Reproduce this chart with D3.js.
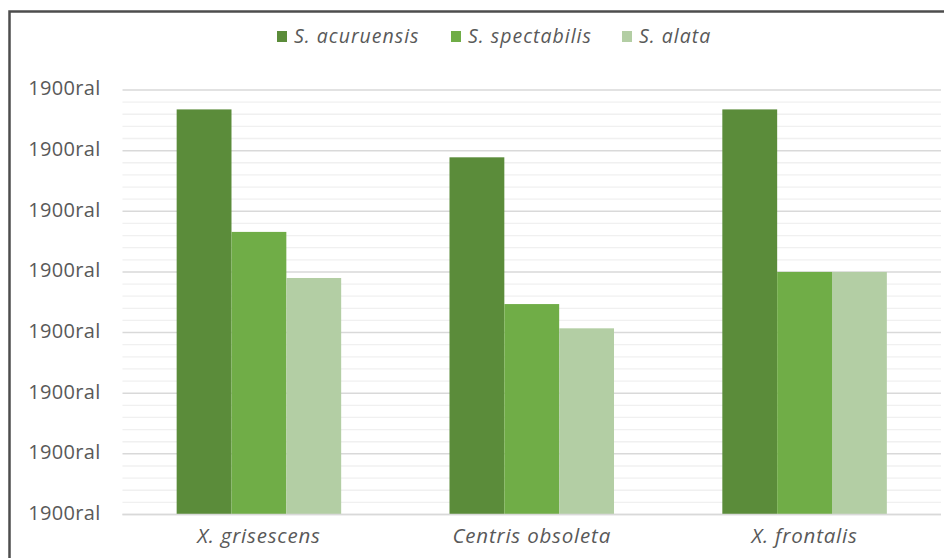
<!DOCTYPE html>
<html>
<head>
<meta charset="utf-8">
<script src="https://cdn.jsdelivr.net/npm/d3@7"></script>
<style>
  html, body { margin: 0; padding: 0; background: #ffffff; }
  svg { display: block; }
  text { font-family: "Open Sans", sans-serif; fill: #595959; }
</style>
</head>
<body>
<svg id="chart" width="944" height="558"></svg>
<script>
// Categories on the x axis
const categories = ["X. grisescens", "Centris obsoleta", "X. frontalis"];
// Series names (legend order) and their values per category
const seriesNames = ["S. acuruensis", "S. spectabilis", "S. alata"];
const acuruensis = [6.68, 5.89, 6.68];
const spectabilis = [4.66, 3.47, 4.00];
const alata = [3.90, 3.07, 4.00];
const seriesColors = ["#5b8c3a", "#70ad47", "#b3cea4"];
// Value axis ticks and their label text
const majorTicks = [0, 1, 2, 3, 4, 5, 6, 7];
const tickLabel = "1900ral";

const seriesValues = [acuruensis, spectabilis, alata];

const svg = d3.select("#chart");
const W = 944, H = 558;

const plot = { left: 122.5, right: 941, top: 90, bottom: 514.5 };

const y = d3.scaleLinear().domain([0, 7]).range([plot.bottom, plot.top]);
const x0 = d3.scaleBand().domain(categories)
  .range([plot.left, plot.right]).paddingInner(0.397).paddingOuter(0.1985);
const x1 = d3.scaleBand().domain(seriesNames).range([0, x0.bandwidth()]).padding(0);
const color = d3.scaleOrdinal().domain(seriesNames).range(seriesColors);

// Chart area frame
svg.append("rect")
  .attr("x", 9.5).attr("y", 11.5)
  .attr("width", W + 20).attr("height", H + 20)
  .attr("fill", "#ffffff")
  .attr("stroke", "#4d4d4d").attr("stroke-width", 2.5);

// Minor gridlines every 0.2
const minorTicks = d3.range(0, 7.0001, 0.2).filter(v => Math.abs(v - Math.round(v)) > 1e-6);
svg.append("g")
  .selectAll("line").data(minorTicks).join("line")
  .attr("x1", plot.left).attr("x2", plot.right)
  .attr("y1", d => y(d)).attr("y2", d => y(d))
  .attr("stroke", "#f0f0f0").attr("stroke-width", 1.3);

// Major gridlines
svg.append("g")
  .selectAll("line").data(majorTicks).join("line")
  .attr("x1", plot.left).attr("x2", plot.right)
  .attr("y1", d => y(d)).attr("y2", d => y(d))
  .attr("stroke", "#d9d9d9").attr("stroke-width", 1.5);

// Value axis labels
const yAxis = d3.axisLeft(y).tickValues(majorTicks).tickFormat(() => tickLabel)
  .tickSize(0).tickPadding(22);
const gy = svg.append("g").attr("transform", `translate(${plot.left},0)`).call(yAxis);
gy.select(".domain").remove();
gy.selectAll("text")
  .attr("font-family", "Open Sans, sans-serif")
  .attr("font-size", 20)
  .attr("letter-spacing", 0.3)
  .attr("fill", "#5f5f5f")
  .attr("dy", "0.24em");

// Bars
const groups = svg.append("g")
  .selectAll("g").data(categories).join("g")
  .attr("transform", d => `translate(${x0(d)},0)`);

groups.selectAll("rect")
  .data((c, i) => seriesNames.map((s, k) => ({ series: s, value: seriesValues[k][i] })))
  .join("rect")
  .attr("x", d => x1(d.series))
  .attr("width", x1.bandwidth())
  .attr("y", d => y(d.value))
  .attr("height", d => y(0) - y(d.value))
  .attr("fill", d => color(d.series));

// Baseline
svg.append("line")
  .attr("x1", plot.left).attr("x2", plot.right)
  .attr("y1", y(0)).attr("y2", y(0))
  .attr("stroke", "#d9d9d9").attr("stroke-width", 1.5);

// Category labels
const xAxis = d3.axisBottom(x0).tickSize(0).tickPadding(14);
const gx = svg.append("g").attr("transform", `translate(0,${plot.bottom})`).call(xAxis);
gx.select(".domain").remove();
gx.selectAll("text")
  .attr("font-family", "Open Sans, sans-serif")
  .attr("font-size", 20.5)
  .attr("font-style", "italic")
  .attr("letter-spacing", 0.8)
  .attr("fill", "#5f5f5f");

// Legend
const legendItems = [
  { name: seriesNames[0], x: 277 },
  { name: seriesNames[1], x: 451 },
  { name: seriesNames[2], x: 622 }
];
const legend = svg.append("g");
const li = legend.selectAll("g").data(legendItems).join("g")
  .attr("transform", d => `translate(${d.x},0)`);
li.append("rect")
  .attr("x", 0).attr("y", 31).attr("width", 10).attr("height", 11)
  .attr("fill", d => color(d.name));
li.append("text")
  .attr("x", 17).attr("y", 42.5)
  .attr("font-size", 19.5)
  .attr("font-style", "italic")
  .attr("letter-spacing", 1.0)
  .attr("fill", "#5f5f5f")
  .text(d => d.name);
</script>
</body>
</html>
